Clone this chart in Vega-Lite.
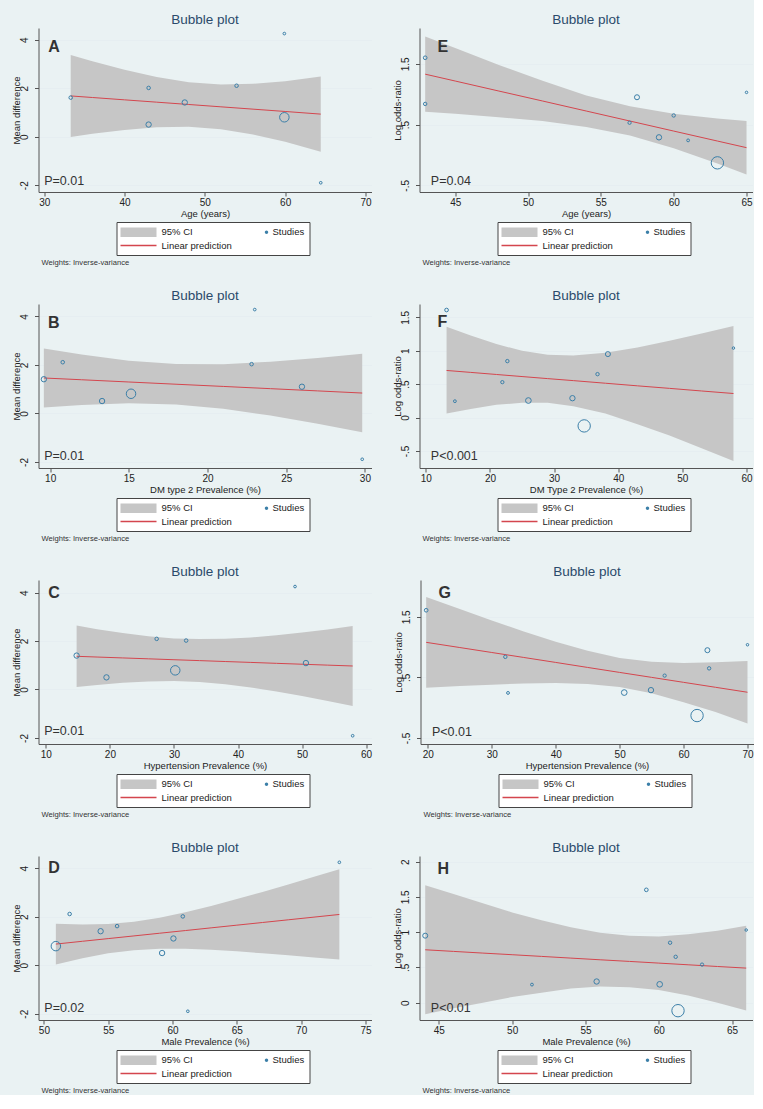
{
  "$schema": "https://vega.github.io/schema/vega-lite/v6.json",
  "background": "#eaf2f3",
  "padding": {"left": 10.5, "top": 13, "right": 0, "bottom": 0},
  "config": {
    "font": "Liberation Sans",
    "view": {"stroke": null, "fill": "#ffffff"},
    "axis": {"domainColor": "#555555", "tickColor": "#555555", "tickSize": 4, "labelColor": "#222222", "titleColor": "#222222", "labelFontSize": 10, "titleFontSize": 9.5, "titleFontWeight": "normal", "labelOverlap": false, "labelFlush": false, "domainWidth": 1, "tickWidth": 1},
    "axisX": {"grid": false, "labelPadding": 1, "titlePadding": 1, "labelExpr": "'' + datum.value"},
    "axisY": {"grid": true, "gridColor": "#e6eef1", "gridWidth": 1, "labelAngle": 270, "labelAlign": "center", "labelBaseline": "bottom", "labelPadding": 5, "titlePadding": -2, "labelExpr": "datum.value === 0.5 ? '.5' : datum.value === -0.5 ? '-.5' : datum.value < 0 ? '-' + (-datum.value) : '' + datum.value"},
    "legend": {"orient": "none", "legendX": 78, "legendY": 194, "direction": "horizontal", "columns": 2, "strokeColor": "#444444", "fillColor": "#ffffff", "padding": 5, "columnPadding": -17, "rowPadding": 3.5, "symbolSize": 100, "symbolStrokeWidth": 0, "symbolOpacity": 1, "labelOffset": 30, "labelFontSize": 9.5, "labelColor": "#222222"}
  },
  "datasets": {
    "legendkey": [{"series": "95% CI"}, {"series": "Studies"}, {"series": "Linear prediction"}],
    "studies": [
      {"panel": "A", "x": 33.3, "y": 1.61, "weight": 1.4},
      {"panel": "A", "x": 43.0, "y": 2.01, "weight": 1.4},
      {"panel": "A", "x": 43.0, "y": 0.50, "weight": 3.2},
      {"panel": "A", "x": 47.5, "y": 1.41, "weight": 3.2},
      {"panel": "A", "x": 53.95, "y": 2.10, "weight": 1.4},
      {"panel": "A", "x": 59.9, "y": 4.25, "weight": 0.8},
      {"panel": "A", "x": 59.9, "y": 0.80, "weight": 10},
      {"panel": "A", "x": 64.43, "y": -1.90, "weight": 0.8},
      {"panel": "B", "x": 9.6, "y": 1.41, "weight": 3.2},
      {"panel": "B", "x": 10.8, "y": 2.11, "weight": 1.4},
      {"panel": "B", "x": 13.3, "y": 0.51, "weight": 3.2},
      {"panel": "B", "x": 15.14, "y": 0.81, "weight": 10},
      {"panel": "B", "x": 22.8, "y": 2.03, "weight": 1.4},
      {"panel": "B", "x": 23.0, "y": 4.28, "weight": 0.8},
      {"panel": "B", "x": 26.0, "y": 1.10, "weight": 3.2},
      {"panel": "B", "x": 29.83, "y": -1.89, "weight": 0.8},
      {"panel": "C", "x": 14.8, "y": 1.40, "weight": 3.2},
      {"panel": "C", "x": 19.46, "y": 0.50, "weight": 3.2},
      {"panel": "C", "x": 27.3, "y": 2.09, "weight": 1.4},
      {"panel": "C", "x": 30.2, "y": 0.79, "weight": 10},
      {"panel": "C", "x": 31.9, "y": 2.02, "weight": 1.4},
      {"panel": "C", "x": 48.9, "y": 4.25, "weight": 0.8},
      {"panel": "C", "x": 50.6, "y": 1.09, "weight": 3.2},
      {"panel": "C", "x": 57.9, "y": -1.91, "weight": 0.8},
      {"panel": "D", "x": 50.93, "y": 0.785, "weight": 10},
      {"panel": "D", "x": 52.0, "y": 2.11, "weight": 1.4},
      {"panel": "D", "x": 54.41, "y": 1.40, "weight": 3.2},
      {"panel": "D", "x": 55.69, "y": 1.61, "weight": 1.4},
      {"panel": "D", "x": 59.19, "y": 0.50, "weight": 3.2},
      {"panel": "D", "x": 60.07, "y": 1.10, "weight": 3.2},
      {"panel": "D", "x": 60.8, "y": 2.01, "weight": 1.4},
      {"panel": "D", "x": 61.19, "y": -1.90, "weight": 0.8},
      {"panel": "D", "x": 72.97, "y": 4.24, "weight": 0.8},
      {"panel": "E", "x": 42.94, "y": 1.60, "weight": 1.5},
      {"panel": "E", "x": 42.94, "y": 0.84, "weight": 1.3},
      {"panel": "E", "x": 56.97, "y": 0.53, "weight": 1.2},
      {"panel": "E", "x": 57.48, "y": 0.95, "weight": 2.8},
      {"panel": "E", "x": 58.99, "y": 0.29, "weight": 3.2},
      {"panel": "E", "x": 60.0, "y": 0.65, "weight": 1.3},
      {"panel": "E", "x": 60.99, "y": 0.24, "weight": 0.9},
      {"panel": "E", "x": 63.0, "y": -0.13, "weight": 17},
      {"panel": "E", "x": 65.0, "y": 1.03, "weight": 0.7},
      {"panel": "F", "x": 13.23, "y": 1.61, "weight": 1.5},
      {"panel": "F", "x": 14.53, "y": 0.245, "weight": 0.9},
      {"panel": "F", "x": 21.93, "y": 0.53, "weight": 1.2},
      {"panel": "F", "x": 22.71, "y": 0.845, "weight": 1.3},
      {"panel": "F", "x": 25.99, "y": 0.255, "weight": 3.6},
      {"panel": "F", "x": 32.86, "y": 0.29, "weight": 3.2},
      {"panel": "F", "x": 34.69, "y": -0.125, "weight": 17},
      {"panel": "F", "x": 36.77, "y": 0.65, "weight": 1.3},
      {"panel": "F", "x": 38.39, "y": 0.95, "weight": 2.8},
      {"panel": "F", "x": 57.97, "y": 1.04, "weight": 0.7},
      {"panel": "G", "x": 19.74, "y": 1.61, "weight": 1.5},
      {"panel": "G", "x": 32.12, "y": 0.84, "weight": 1.3},
      {"panel": "G", "x": 32.54, "y": 0.244, "weight": 0.9},
      {"panel": "G", "x": 50.72, "y": 0.25, "weight": 3.6},
      {"panel": "G", "x": 54.9, "y": 0.29, "weight": 3.2},
      {"panel": "G", "x": 57.04, "y": 0.53, "weight": 1.2},
      {"panel": "G", "x": 62.11, "y": -0.13, "weight": 17},
      {"panel": "G", "x": 63.73, "y": 0.95, "weight": 2.8},
      {"panel": "G", "x": 64.0, "y": 0.65, "weight": 1.3},
      {"panel": "G", "x": 70.0, "y": 1.04, "weight": 0.7},
      {"panel": "H", "x": 44.07, "y": 0.95, "weight": 2.8},
      {"panel": "H", "x": 51.35, "y": 0.256, "weight": 0.9},
      {"panel": "H", "x": 55.76, "y": 0.30, "weight": 3.2},
      {"panel": "H", "x": 59.15, "y": 1.60, "weight": 1.5},
      {"panel": "H", "x": 60.06, "y": 0.26, "weight": 3.6},
      {"panel": "H", "x": 60.77, "y": 0.85, "weight": 1.3},
      {"panel": "H", "x": 61.15, "y": 0.65, "weight": 1.3},
      {"panel": "H", "x": 61.31, "y": -0.114, "weight": 17},
      {"panel": "H", "x": 62.95, "y": 0.54, "weight": 1.2},
      {"panel": "H", "x": 65.96, "y": 1.03, "weight": 0.7}
    ],
    "fits": [
      {"panel": "A", "x": 33.3, "hi": 3.37, "lo": -0.01, "pred": 1.68},
      {"panel": "A", "x": 36, "hi": 3.11, "lo": 0.12, "pred": 1.615},
      {"panel": "A", "x": 40, "hi": 2.76, "lo": 0.28, "pred": 1.519},
      {"panel": "A", "x": 44, "hi": 2.46, "lo": 0.39, "pred": 1.423},
      {"panel": "A", "x": 48, "hi": 2.24, "lo": 0.41, "pred": 1.327},
      {"panel": "A", "x": 52, "hi": 2.15, "lo": 0.31, "pred": 1.231},
      {"panel": "A", "x": 56, "hi": 2.18, "lo": 0.09, "pred": 1.135},
      {"panel": "A", "x": 60, "hi": 2.29, "lo": -0.21, "pred": 1.039},
      {"panel": "A", "x": 64.43, "hi": 2.48, "lo": -0.62, "pred": 0.93},
      {"panel": "E", "x": 42.94, "hi": 1.95, "lo": 0.71, "pred": 1.33},
      {"panel": "E", "x": 45, "hi": 1.76, "lo": 0.68, "pred": 1.217},
      {"panel": "E", "x": 48, "hi": 1.48, "lo": 0.62, "pred": 1.052},
      {"panel": "E", "x": 51, "hi": 1.22, "lo": 0.56, "pred": 0.888},
      {"panel": "E", "x": 54, "hi": 0.98, "lo": 0.46, "pred": 0.723},
      {"panel": "E", "x": 57, "hi": 0.80, "lo": 0.32, "pred": 0.558},
      {"panel": "E", "x": 60, "hi": 0.68, "lo": 0.11, "pred": 0.393},
      {"panel": "E", "x": 63, "hi": 0.60, "lo": -0.14, "pred": 0.229},
      {"panel": "E", "x": 65, "hi": 0.56, "lo": -0.32, "pred": 0.12},
      {"panel": "B", "x": 9.6, "hi": 2.68, "lo": 0.24, "pred": 1.46},
      {"panel": "B", "x": 12, "hi": 2.43, "lo": 0.35, "pred": 1.387},
      {"panel": "B", "x": 15, "hi": 2.17, "lo": 0.42, "pred": 1.295},
      {"panel": "B", "x": 18, "hi": 2.04, "lo": 0.37, "pred": 1.203},
      {"panel": "B", "x": 21, "hi": 2.03, "lo": 0.19, "pred": 1.112},
      {"panel": "B", "x": 24, "hi": 2.13, "lo": -0.09, "pred": 1.020},
      {"panel": "B", "x": 27, "hi": 2.28, "lo": -0.43, "pred": 0.928},
      {"panel": "B", "x": 29.83, "hi": 2.46, "lo": -0.78, "pred": 0.84},
      {"panel": "F", "x": 13.23, "hi": 1.36, "lo": 0.06, "pred": 0.705},
      {"panel": "F", "x": 17, "hi": 1.23, "lo": 0.13, "pred": 0.676},
      {"panel": "F", "x": 21, "hi": 1.10, "lo": 0.19, "pred": 0.645},
      {"panel": "F", "x": 25, "hi": 1.00, "lo": 0.22, "pred": 0.614},
      {"panel": "F", "x": 29, "hi": 0.94, "lo": 0.22, "pred": 0.583},
      {"panel": "F", "x": 33, "hi": 0.93, "lo": 0.17, "pred": 0.553},
      {"panel": "F", "x": 38, "hi": 0.97, "lo": 0.06, "pred": 0.514},
      {"panel": "F", "x": 43, "hi": 1.05, "lo": -0.10, "pred": 0.475},
      {"panel": "F", "x": 48, "hi": 1.15, "lo": -0.27, "pred": 0.437},
      {"panel": "F", "x": 53, "hi": 1.26, "lo": -0.46, "pred": 0.398},
      {"panel": "F", "x": 57.97, "hi": 1.37, "lo": -0.65, "pred": 0.36},
      {"panel": "C", "x": 14.8, "hi": 2.64, "lo": 0.10, "pred": 1.37},
      {"panel": "C", "x": 18, "hi": 2.49, "lo": 0.19, "pred": 1.340},
      {"panel": "C", "x": 22, "hi": 2.33, "lo": 0.28, "pred": 1.303},
      {"panel": "C", "x": 26, "hi": 2.20, "lo": 0.33, "pred": 1.266},
      {"panel": "C", "x": 30, "hi": 2.11, "lo": 0.35, "pred": 1.229},
      {"panel": "C", "x": 34, "hi": 2.08, "lo": 0.31, "pred": 1.192},
      {"panel": "C", "x": 38, "hi": 2.09, "lo": 0.22, "pred": 1.155},
      {"panel": "C", "x": 42, "hi": 2.15, "lo": 0.08, "pred": 1.118},
      {"panel": "C", "x": 46, "hi": 2.24, "lo": -0.08, "pred": 1.080},
      {"panel": "C", "x": 50, "hi": 2.35, "lo": -0.27, "pred": 1.043},
      {"panel": "C", "x": 54, "hi": 2.48, "lo": -0.47, "pred": 1.006},
      {"panel": "C", "x": 57.9, "hi": 2.62, "lo": -0.68, "pred": 0.97},
      {"panel": "G", "x": 19.74, "hi": 1.83, "lo": 0.33, "pred": 1.08},
      {"panel": "G", "x": 25, "hi": 1.63, "lo": 0.36, "pred": 0.994},
      {"panel": "G", "x": 30, "hi": 1.44, "lo": 0.38, "pred": 0.912},
      {"panel": "G", "x": 35, "hi": 1.26, "lo": 0.40, "pred": 0.830},
      {"panel": "G", "x": 40, "hi": 1.09, "lo": 0.41, "pred": 0.748},
      {"panel": "G", "x": 45, "hi": 0.94, "lo": 0.39, "pred": 0.665},
      {"panel": "G", "x": 50, "hi": 0.82, "lo": 0.34, "pred": 0.583},
      {"panel": "G", "x": 55, "hi": 0.76, "lo": 0.24, "pred": 0.501},
      {"panel": "G", "x": 60, "hi": 0.74, "lo": 0.09, "pred": 0.419},
      {"panel": "G", "x": 65, "hi": 0.75, "lo": -0.07, "pred": 0.337},
      {"panel": "G", "x": 70, "hi": 0.77, "lo": -0.26, "pred": 0.255},
      {"panel": "D", "x": 50.93, "hi": 1.71, "lo": 0.03, "pred": 0.87},
      {"panel": "D", "x": 53, "hi": 1.68, "lo": 0.29, "pred": 0.985},
      {"panel": "D", "x": 55, "hi": 1.70, "lo": 0.49, "pred": 1.095},
      {"panel": "D", "x": 57, "hi": 1.79, "lo": 0.62, "pred": 1.206},
      {"panel": "D", "x": 59, "hi": 1.95, "lo": 0.68, "pred": 1.317},
      {"panel": "D", "x": 61, "hi": 2.18, "lo": 0.68, "pred": 1.427},
      {"panel": "D", "x": 63, "hi": 2.44, "lo": 0.64, "pred": 1.538},
      {"panel": "D", "x": 65, "hi": 2.73, "lo": 0.57, "pred": 1.649},
      {"panel": "D", "x": 67, "hi": 3.02, "lo": 0.49, "pred": 1.759},
      {"panel": "D", "x": 69, "hi": 3.33, "lo": 0.41, "pred": 1.870},
      {"panel": "D", "x": 71, "hi": 3.64, "lo": 0.32, "pred": 1.981},
      {"panel": "D", "x": 72.97, "hi": 3.95, "lo": 0.23, "pred": 2.09},
      {"panel": "H", "x": 44.07, "hi": 1.665, "lo": -0.165, "pred": 0.75},
      {"panel": "H", "x": 46, "hi": 1.54, "lo": -0.08, "pred": 0.727},
      {"panel": "H", "x": 48, "hi": 1.41, "lo": 0.00, "pred": 0.703},
      {"panel": "H", "x": 50, "hi": 1.28, "lo": 0.08, "pred": 0.680},
      {"panel": "H", "x": 52, "hi": 1.17, "lo": 0.14, "pred": 0.656},
      {"panel": "H", "x": 54, "hi": 1.07, "lo": 0.20, "pred": 0.632},
      {"panel": "H", "x": 56, "hi": 0.99, "lo": 0.23, "pred": 0.608},
      {"panel": "H", "x": 58, "hi": 0.95, "lo": 0.22, "pred": 0.585},
      {"panel": "H", "x": 60, "hi": 0.94, "lo": 0.18, "pred": 0.561},
      {"panel": "H", "x": 62, "hi": 0.97, "lo": 0.10, "pred": 0.537},
      {"panel": "H", "x": 64, "hi": 1.02, "lo": 0.00, "pred": 0.513},
      {"panel": "H", "x": 65.96, "hi": 1.09, "lo": -0.11, "pred": 0.49}
    ],
    "notes": [
      {"panel": "A", "kind": "letter", "label": "A", "x": 30.5, "y": 3.51},
      {"panel": "A", "kind": "p", "label": "P=0.01", "x": 30.0, "y": -2.0},
      {"panel": "E", "kind": "letter", "label": "E", "x": 43.79, "y": 1.70},
      {"panel": "E", "kind": "p", "label": "P=0.04", "x": 43.33, "y": -0.50},
      {"panel": "B", "kind": "letter", "label": "B", "x": 9.87, "y": 3.54},
      {"panel": "B", "kind": "p", "label": "P=0.01", "x": 9.62, "y": -1.93},
      {"panel": "F", "kind": "letter", "label": "F", "x": 11.82, "y": 1.35},
      {"panel": "F", "kind": "p", "label": "P<0.001", "x": 10.78, "y": -0.63},
      {"panel": "C", "kind": "letter", "label": "C", "x": 10.37, "y": 3.77},
      {"panel": "C", "kind": "p", "label": "P=0.01", "x": 9.74, "y": -1.89},
      {"panel": "G", "kind": "letter", "label": "G", "x": 21.67, "y": 1.81},
      {"panel": "G", "kind": "p", "label": "P<0.01", "x": 20.63, "y": -0.47},
      {"panel": "D", "kind": "letter", "label": "D", "x": 50.34, "y": 3.80},
      {"panel": "D", "kind": "p", "label": "P=0.02", "x": 50.03, "y": -1.91},
      {"panel": "H", "kind": "letter", "label": "H", "x": 44.91, "y": 1.83},
      {"panel": "H", "kind": "p", "label": "P<0.01", "x": 44.45, "y": -0.13}
    ]
  },
  "spacing": 22,
  "resolve": {"scale": {"color": "independent", "shape": "independent"}, "legend": {"color": "independent", "shape": "independent"}},
  "vconcat": [
    {"spacing": 21, "resolve": {"scale": {"color": "independent", "shape": "independent"}, "legend": {"color": "independent", "shape": "independent"}}, "hconcat": [
      {"resolve": {"scale": {"color": "independent", "shape": "independent"}, "legend": {"color": "independent", "shape": "independent"}},
       "title": {"text": "Weights: Inverse-variance", "orient": "bottom", "anchor": "start", "frame": "bounds", "dx": 30, "offset": 3, "fontSize": 7.6, "fontWeight": "normal", "color": "#333333", "baseline": "top"},
       "vconcat": [{"width": 333, "height": 164,
        "title": {"text": "Bubble plot", "anchor": "middle", "frame": "group", "offset": -9.5, "fontSize": 13.5, "fontWeight": "normal", "color": "#2a4a6b", "baseline": "alphabetic"},
        "layer": [
          {"data": {"name": "fits"}, "transform": [{"filter": "datum.panel === 'A'"}], "mark": {"type": "area", "opacity": 1, "color": "#c6c6c6"},
           "encoding": {
             "x": {"field": "x", "type": "quantitative", "title": "Age (years)", "scale": {"domain": [29.29, 70.75], "nice": false, "zero": false}, "axis": {"values": [30, 40, 50, 60, 70]}},
             "y": {"field": "hi", "type": "quantitative", "title": "Mean difference", "scale": {"domain": [-2.28, 4.48], "nice": false, "zero": false}, "axis": {"values": [-2, 0, 2, 4]}},
             "y2": {"field": "lo"}}},
          {"data": {"name": "fits"}, "transform": [{"filter": "datum.panel === 'A'"}], "mark": {"type": "line", "strokeWidth": 1, "color": "#d4464e"},
           "encoding": {"x": {"field": "x", "type": "quantitative", "title": "Age (years)"}, "y": {"field": "pred", "type": "quantitative", "title": "Mean difference"}}},
          {"data": {"name": "studies"}, "transform": [{"filter": "datum.panel === 'A'"}], "mark": {"type": "point", "shape": "circle", "filled": false, "strokeWidth": 1, "opacity": 1, "color": "#3b7fa8"},
           "encoding": {"x": {"field": "x", "type": "quantitative", "title": "Age (years)"}, "y": {"field": "y", "type": "quantitative", "title": "Mean difference"}, "size": {"field": "weight", "type": "quantitative", "scale": {"domain": [0, 20], "range": [0, 180]}, "legend": null}}},
          {"data": {"name": "notes"}, "transform": [{"filter": "datum.panel === 'A' && datum.kind === 'letter'"}], "mark": {"type": "text", "align": "left", "baseline": "alphabetic", "fontSize": 16, "fontWeight": "bold", "color": "#333333"},
           "encoding": {"x": {"field": "x", "type": "quantitative", "title": "Age (years)"}, "y": {"field": "y", "type": "quantitative", "title": "Mean difference"}, "text": {"field": "label"}}},
          {"data": {"name": "notes"}, "transform": [{"filter": "datum.panel === 'A' && datum.kind === 'p'"}], "mark": {"type": "text", "align": "left", "baseline": "alphabetic", "fontSize": 12.5, "color": "#333333"},
           "encoding": {"x": {"field": "x", "type": "quantitative", "title": "Age (years)"}, "y": {"field": "y", "type": "quantitative", "title": "Mean difference"}, "text": {"field": "label"}}},
          {"data": {"name": "legendkey"}, "mark": {"type": "point", "filled": true, "opacity": 0},
           "encoding": {
             "color": {"field": "series", "type": "nominal", "scale": {"domain": ["95% CI", "Studies", "Linear prediction"], "range": ["#c6c6c6", "#3b7fa8", "#d4464e"]}, "legend": {"title": null}},
             "shape": {"field": "series", "type": "nominal", "scale": {"domain": ["95% CI", "Studies", "Linear prediction"], "range": ["M-1.2,-0.95H6V0.95H-1.2Z", "M5.46,0A0.34,0.34,0,1,1,6.14,0A0.34,0.34,0,1,1,5.46,0Z", "M-1.2,-0.14H6V0.14H-1.2Z"]}, "legend": {"title": null}}}}
        ]}]},
      {"resolve": {"scale": {"color": "independent", "shape": "independent"}, "legend": {"color": "independent", "shape": "independent"}},
       "title": {"text": "Weights: Inverse-variance", "orient": "bottom", "anchor": "start", "frame": "bounds", "dx": 30, "offset": 3, "fontSize": 7.6, "fontWeight": "normal", "color": "#333333", "baseline": "top"},
       "vconcat": [{"width": 333, "height": 164,
        "title": {"text": "Bubble plot", "anchor": "middle", "frame": "group", "offset": -9.5, "fontSize": 13.5, "fontWeight": "normal", "color": "#2a4a6b", "baseline": "alphabetic"},
        "layer": [
          {"data": {"name": "fits"}, "transform": [{"filter": "datum.panel === 'E'"}], "mark": {"type": "area", "opacity": 1, "color": "#c6c6c6"},
           "encoding": {
             "x": {"field": "x", "type": "quantitative", "title": "Age (years)", "scale": {"domain": [42.55, 65.41], "nice": false, "zero": false}, "axis": {"values": [45, 50, 55, 60, 65]}},
             "y": {"field": "hi", "type": "quantitative", "title": "Log odds-ratio", "scale": {"domain": [-0.61, 2.09], "nice": false, "zero": false}, "axis": {"values": [-0.5, 0, 0.5, 1, 1.5, 2]}},
             "y2": {"field": "lo"}}},
          {"data": {"name": "fits"}, "transform": [{"filter": "datum.panel === 'E'"}], "mark": {"type": "line", "strokeWidth": 1, "color": "#d4464e"},
           "encoding": {"x": {"field": "x", "type": "quantitative", "title": "Age (years)"}, "y": {"field": "pred", "type": "quantitative", "title": "Log odds-ratio"}}},
          {"data": {"name": "studies"}, "transform": [{"filter": "datum.panel === 'E'"}], "mark": {"type": "point", "shape": "circle", "filled": false, "strokeWidth": 1, "opacity": 1, "color": "#3b7fa8"},
           "encoding": {"x": {"field": "x", "type": "quantitative", "title": "Age (years)"}, "y": {"field": "y", "type": "quantitative", "title": "Log odds-ratio"}, "size": {"field": "weight", "type": "quantitative", "scale": {"domain": [0, 20], "range": [0, 180]}, "legend": null}}},
          {"data": {"name": "notes"}, "transform": [{"filter": "datum.panel === 'E' && datum.kind === 'letter'"}], "mark": {"type": "text", "align": "left", "baseline": "alphabetic", "fontSize": 16, "fontWeight": "bold", "color": "#333333"},
           "encoding": {"x": {"field": "x", "type": "quantitative", "title": "Age (years)"}, "y": {"field": "y", "type": "quantitative", "title": "Log odds-ratio"}, "text": {"field": "label"}}},
          {"data": {"name": "notes"}, "transform": [{"filter": "datum.panel === 'E' && datum.kind === 'p'"}], "mark": {"type": "text", "align": "left", "baseline": "alphabetic", "fontSize": 12.5, "color": "#333333"},
           "encoding": {"x": {"field": "x", "type": "quantitative", "title": "Age (years)"}, "y": {"field": "y", "type": "quantitative", "title": "Log odds-ratio"}, "text": {"field": "label"}}},
          {"data": {"name": "legendkey"}, "mark": {"type": "point", "filled": true, "opacity": 0},
           "encoding": {
             "color": {"field": "series", "type": "nominal", "scale": {"domain": ["95% CI", "Studies", "Linear prediction"], "range": ["#c6c6c6", "#3b7fa8", "#d4464e"]}, "legend": {"title": null}},
             "shape": {"field": "series", "type": "nominal", "scale": {"domain": ["95% CI", "Studies", "Linear prediction"], "range": ["M-1.2,-0.95H6V0.95H-1.2Z", "M5.46,0A0.34,0.34,0,1,1,6.14,0A0.34,0.34,0,1,1,5.46,0Z", "M-1.2,-0.14H6V0.14H-1.2Z"]}, "legend": {"title": null}}}}
        ]}]}
    ]},
    {"spacing": 21, "resolve": {"scale": {"color": "independent", "shape": "independent"}, "legend": {"color": "independent", "shape": "independent"}}, "hconcat": [
      {"resolve": {"scale": {"color": "independent", "shape": "independent"}, "legend": {"color": "independent", "shape": "independent"}},
       "title": {"text": "Weights: Inverse-variance", "orient": "bottom", "anchor": "start", "frame": "bounds", "dx": 30, "offset": 3, "fontSize": 7.6, "fontWeight": "normal", "color": "#333333", "baseline": "top"},
       "vconcat": [{"width": 333, "height": 164,
        "title": {"text": "Bubble plot", "anchor": "middle", "frame": "group", "offset": -9.5, "fontSize": 13.5, "fontWeight": "normal", "color": "#2a4a6b", "baseline": "alphabetic"},
        "layer": [
          {"data": {"name": "fits"}, "transform": [{"filter": "datum.panel === 'B'"}], "mark": {"type": "area", "opacity": 1, "color": "#c6c6c6"},
           "encoding": {
             "x": {"field": "x", "type": "quantitative", "title": "DM type 2 Prevalence (%)", "scale": {"domain": [9.26, 30.42], "nice": false, "zero": false}, "axis": {"values": [10, 15, 20, 25, 30]}},
             "y": {"field": "hi", "type": "quantitative", "title": "Mean difference", "scale": {"domain": [-2.25, 4.51], "nice": false, "zero": false}, "axis": {"values": [-2, 0, 2, 4]}},
             "y2": {"field": "lo"}}},
          {"data": {"name": "fits"}, "transform": [{"filter": "datum.panel === 'B'"}], "mark": {"type": "line", "strokeWidth": 1, "color": "#d4464e"},
           "encoding": {"x": {"field": "x", "type": "quantitative", "title": "DM type 2 Prevalence (%)"}, "y": {"field": "pred", "type": "quantitative", "title": "Mean difference"}}},
          {"data": {"name": "studies"}, "transform": [{"filter": "datum.panel === 'B'"}], "mark": {"type": "point", "shape": "circle", "filled": false, "strokeWidth": 1, "opacity": 1, "color": "#3b7fa8"},
           "encoding": {"x": {"field": "x", "type": "quantitative", "title": "DM type 2 Prevalence (%)"}, "y": {"field": "y", "type": "quantitative", "title": "Mean difference"}, "size": {"field": "weight", "type": "quantitative", "scale": {"domain": [0, 20], "range": [0, 180]}, "legend": null}}},
          {"data": {"name": "notes"}, "transform": [{"filter": "datum.panel === 'B' && datum.kind === 'letter'"}], "mark": {"type": "text", "align": "left", "baseline": "alphabetic", "fontSize": 16, "fontWeight": "bold", "color": "#333333"},
           "encoding": {"x": {"field": "x", "type": "quantitative", "title": "DM type 2 Prevalence (%)"}, "y": {"field": "y", "type": "quantitative", "title": "Mean difference"}, "text": {"field": "label"}}},
          {"data": {"name": "notes"}, "transform": [{"filter": "datum.panel === 'B' && datum.kind === 'p'"}], "mark": {"type": "text", "align": "left", "baseline": "alphabetic", "fontSize": 12.5, "color": "#333333"},
           "encoding": {"x": {"field": "x", "type": "quantitative", "title": "DM type 2 Prevalence (%)"}, "y": {"field": "y", "type": "quantitative", "title": "Mean difference"}, "text": {"field": "label"}}},
          {"data": {"name": "legendkey"}, "mark": {"type": "point", "filled": true, "opacity": 0},
           "encoding": {
             "color": {"field": "series", "type": "nominal", "scale": {"domain": ["95% CI", "Studies", "Linear prediction"], "range": ["#c6c6c6", "#3b7fa8", "#d4464e"]}, "legend": {"title": null}},
             "shape": {"field": "series", "type": "nominal", "scale": {"domain": ["95% CI", "Studies", "Linear prediction"], "range": ["M-1.2,-0.95H6V0.95H-1.2Z", "M5.46,0A0.34,0.34,0,1,1,6.14,0A0.34,0.34,0,1,1,5.46,0Z", "M-1.2,-0.14H6V0.14H-1.2Z"]}, "legend": {"title": null}}}}
        ]}]},
      {"resolve": {"scale": {"color": "independent", "shape": "independent"}, "legend": {"color": "independent", "shape": "independent"}},
       "title": {"text": "Weights: Inverse-variance", "orient": "bottom", "anchor": "start", "frame": "bounds", "dx": 30, "offset": 3, "fontSize": 7.6, "fontWeight": "normal", "color": "#333333", "baseline": "top"},
       "vconcat": [{"width": 333, "height": 164,
        "title": {"text": "Bubble plot", "anchor": "middle", "frame": "group", "offset": -9.5, "fontSize": 13.5, "fontWeight": "normal", "color": "#2a4a6b", "baseline": "alphabetic"},
        "layer": [
          {"data": {"name": "fits"}, "transform": [{"filter": "datum.panel === 'F'"}], "mark": {"type": "area", "opacity": 1, "color": "#c6c6c6"},
           "encoding": {
             "x": {"field": "x", "type": "quantitative", "title": "DM Type 2 Prevalence (%)", "scale": {"domain": [9.01, 60.94], "nice": false, "zero": false}, "axis": {"values": [10, 20, 30, 40, 50, 60]}},
             "y": {"field": "hi", "type": "quantitative", "title": "Log odds-ratio", "scale": {"domain": [-0.755, 1.70], "nice": false, "zero": false}, "axis": {"values": [-0.5, 0, 0.5, 1, 1.5]}},
             "y2": {"field": "lo"}}},
          {"data": {"name": "fits"}, "transform": [{"filter": "datum.panel === 'F'"}], "mark": {"type": "line", "strokeWidth": 1, "color": "#d4464e"},
           "encoding": {"x": {"field": "x", "type": "quantitative", "title": "DM Type 2 Prevalence (%)"}, "y": {"field": "pred", "type": "quantitative", "title": "Log odds-ratio"}}},
          {"data": {"name": "studies"}, "transform": [{"filter": "datum.panel === 'F'"}], "mark": {"type": "point", "shape": "circle", "filled": false, "strokeWidth": 1, "opacity": 1, "color": "#3b7fa8"},
           "encoding": {"x": {"field": "x", "type": "quantitative", "title": "DM Type 2 Prevalence (%)"}, "y": {"field": "y", "type": "quantitative", "title": "Log odds-ratio"}, "size": {"field": "weight", "type": "quantitative", "scale": {"domain": [0, 20], "range": [0, 180]}, "legend": null}}},
          {"data": {"name": "notes"}, "transform": [{"filter": "datum.panel === 'F' && datum.kind === 'letter'"}], "mark": {"type": "text", "align": "left", "baseline": "alphabetic", "fontSize": 16, "fontWeight": "bold", "color": "#333333"},
           "encoding": {"x": {"field": "x", "type": "quantitative", "title": "DM Type 2 Prevalence (%)"}, "y": {"field": "y", "type": "quantitative", "title": "Log odds-ratio"}, "text": {"field": "label"}}},
          {"data": {"name": "notes"}, "transform": [{"filter": "datum.panel === 'F' && datum.kind === 'p'"}], "mark": {"type": "text", "align": "left", "baseline": "alphabetic", "fontSize": 12.5, "color": "#333333"},
           "encoding": {"x": {"field": "x", "type": "quantitative", "title": "DM Type 2 Prevalence (%)"}, "y": {"field": "y", "type": "quantitative", "title": "Log odds-ratio"}, "text": {"field": "label"}}},
          {"data": {"name": "legendkey"}, "mark": {"type": "point", "filled": true, "opacity": 0},
           "encoding": {
             "color": {"field": "series", "type": "nominal", "scale": {"domain": ["95% CI", "Studies", "Linear prediction"], "range": ["#c6c6c6", "#3b7fa8", "#d4464e"]}, "legend": {"title": null}},
             "shape": {"field": "series", "type": "nominal", "scale": {"domain": ["95% CI", "Studies", "Linear prediction"], "range": ["M-1.2,-0.95H6V0.95H-1.2Z", "M5.46,0A0.34,0.34,0,1,1,6.14,0A0.34,0.34,0,1,1,5.46,0Z", "M-1.2,-0.14H6V0.14H-1.2Z"]}, "legend": {"title": null}}}}
        ]}]}
    ]},
    {"spacing": 21, "resolve": {"scale": {"color": "independent", "shape": "independent"}, "legend": {"color": "independent", "shape": "independent"}}, "hconcat": [
      {"resolve": {"scale": {"color": "independent", "shape": "independent"}, "legend": {"color": "independent", "shape": "independent"}},
       "title": {"text": "Weights: Inverse-variance", "orient": "bottom", "anchor": "start", "frame": "bounds", "dx": 30, "offset": 3, "fontSize": 7.6, "fontWeight": "normal", "color": "#333333", "baseline": "top"},
       "vconcat": [{"width": 333, "height": 164,
        "title": {"text": "Bubble plot", "anchor": "middle", "frame": "group", "offset": -9.5, "fontSize": 13.5, "fontWeight": "normal", "color": "#2a4a6b", "baseline": "alphabetic"},
        "layer": [
          {"data": {"name": "fits"}, "transform": [{"filter": "datum.panel === 'C'"}], "mark": {"type": "area", "opacity": 1, "color": "#c6c6c6"},
           "encoding": {
             "x": {"field": "x", "type": "quantitative", "title": "Hypertension Prevalence (%)", "scale": {"domain": [8.85, 60.84], "nice": false, "zero": false}, "axis": {"values": [10, 20, 30, 40, 50, 60]}},
             "y": {"field": "hi", "type": "quantitative", "title": "Mean difference", "scale": {"domain": [-2.25, 4.52], "nice": false, "zero": false}, "axis": {"values": [-2, 0, 2, 4]}},
             "y2": {"field": "lo"}}},
          {"data": {"name": "fits"}, "transform": [{"filter": "datum.panel === 'C'"}], "mark": {"type": "line", "strokeWidth": 1, "color": "#d4464e"},
           "encoding": {"x": {"field": "x", "type": "quantitative", "title": "Hypertension Prevalence (%)"}, "y": {"field": "pred", "type": "quantitative", "title": "Mean difference"}}},
          {"data": {"name": "studies"}, "transform": [{"filter": "datum.panel === 'C'"}], "mark": {"type": "point", "shape": "circle", "filled": false, "strokeWidth": 1, "opacity": 1, "color": "#3b7fa8"},
           "encoding": {"x": {"field": "x", "type": "quantitative", "title": "Hypertension Prevalence (%)"}, "y": {"field": "y", "type": "quantitative", "title": "Mean difference"}, "size": {"field": "weight", "type": "quantitative", "scale": {"domain": [0, 20], "range": [0, 180]}, "legend": null}}},
          {"data": {"name": "notes"}, "transform": [{"filter": "datum.panel === 'C' && datum.kind === 'letter'"}], "mark": {"type": "text", "align": "left", "baseline": "alphabetic", "fontSize": 16, "fontWeight": "bold", "color": "#333333"},
           "encoding": {"x": {"field": "x", "type": "quantitative", "title": "Hypertension Prevalence (%)"}, "y": {"field": "y", "type": "quantitative", "title": "Mean difference"}, "text": {"field": "label"}}},
          {"data": {"name": "notes"}, "transform": [{"filter": "datum.panel === 'C' && datum.kind === 'p'"}], "mark": {"type": "text", "align": "left", "baseline": "alphabetic", "fontSize": 12.5, "color": "#333333"},
           "encoding": {"x": {"field": "x", "type": "quantitative", "title": "Hypertension Prevalence (%)"}, "y": {"field": "y", "type": "quantitative", "title": "Mean difference"}, "text": {"field": "label"}}},
          {"data": {"name": "legendkey"}, "mark": {"type": "point", "filled": true, "opacity": 0},
           "encoding": {
             "color": {"field": "series", "type": "nominal", "scale": {"domain": ["95% CI", "Studies", "Linear prediction"], "range": ["#c6c6c6", "#3b7fa8", "#d4464e"]}, "legend": {"title": null}},
             "shape": {"field": "series", "type": "nominal", "scale": {"domain": ["95% CI", "Studies", "Linear prediction"], "range": ["M-1.2,-0.95H6V0.95H-1.2Z", "M5.46,0A0.34,0.34,0,1,1,6.14,0A0.34,0.34,0,1,1,5.46,0Z", "M-1.2,-0.14H6V0.14H-1.2Z"]}, "legend": {"title": null}}}}
        ]}]},
      {"resolve": {"scale": {"color": "independent", "shape": "independent"}, "legend": {"color": "independent", "shape": "independent"}},
       "title": {"text": "Weights: Inverse-variance", "orient": "bottom", "anchor": "start", "frame": "bounds", "dx": 30, "offset": 3, "fontSize": 7.6, "fontWeight": "normal", "color": "#333333", "baseline": "top"},
       "vconcat": [{"width": 333, "height": 164,
        "title": {"text": "Bubble plot", "anchor": "middle", "frame": "group", "offset": -9.5, "fontSize": 13.5, "fontWeight": "normal", "color": "#2a4a6b", "baseline": "alphabetic"},
        "layer": [
          {"data": {"name": "fits"}, "transform": [{"filter": "datum.panel === 'G'"}], "mark": {"type": "area", "opacity": 1, "color": "#c6c6c6"},
           "encoding": {
             "x": {"field": "x", "type": "quantitative", "title": "Hypertension Prevalence (%)", "scale": {"domain": [18.85, 70.94], "nice": false, "zero": false}, "axis": {"values": [20, 30, 40, 50, 60, 70]}},
             "y": {"field": "hi", "type": "quantitative", "title": "Log odds-ratio", "scale": {"domain": [-0.60, 2.11], "nice": false, "zero": false}, "axis": {"values": [-0.5, 0, 0.5, 1, 1.5, 2]}},
             "y2": {"field": "lo"}}},
          {"data": {"name": "fits"}, "transform": [{"filter": "datum.panel === 'G'"}], "mark": {"type": "line", "strokeWidth": 1, "color": "#d4464e"},
           "encoding": {"x": {"field": "x", "type": "quantitative", "title": "Hypertension Prevalence (%)"}, "y": {"field": "pred", "type": "quantitative", "title": "Log odds-ratio"}}},
          {"data": {"name": "studies"}, "transform": [{"filter": "datum.panel === 'G'"}], "mark": {"type": "point", "shape": "circle", "filled": false, "strokeWidth": 1, "opacity": 1, "color": "#3b7fa8"},
           "encoding": {"x": {"field": "x", "type": "quantitative", "title": "Hypertension Prevalence (%)"}, "y": {"field": "y", "type": "quantitative", "title": "Log odds-ratio"}, "size": {"field": "weight", "type": "quantitative", "scale": {"domain": [0, 20], "range": [0, 180]}, "legend": null}}},
          {"data": {"name": "notes"}, "transform": [{"filter": "datum.panel === 'G' && datum.kind === 'letter'"}], "mark": {"type": "text", "align": "left", "baseline": "alphabetic", "fontSize": 16, "fontWeight": "bold", "color": "#333333"},
           "encoding": {"x": {"field": "x", "type": "quantitative", "title": "Hypertension Prevalence (%)"}, "y": {"field": "y", "type": "quantitative", "title": "Log odds-ratio"}, "text": {"field": "label"}}},
          {"data": {"name": "notes"}, "transform": [{"filter": "datum.panel === 'G' && datum.kind === 'p'"}], "mark": {"type": "text", "align": "left", "baseline": "alphabetic", "fontSize": 12.5, "color": "#333333"},
           "encoding": {"x": {"field": "x", "type": "quantitative", "title": "Hypertension Prevalence (%)"}, "y": {"field": "y", "type": "quantitative", "title": "Log odds-ratio"}, "text": {"field": "label"}}},
          {"data": {"name": "legendkey"}, "mark": {"type": "point", "filled": true, "opacity": 0},
           "encoding": {
             "color": {"field": "series", "type": "nominal", "scale": {"domain": ["95% CI", "Studies", "Linear prediction"], "range": ["#c6c6c6", "#3b7fa8", "#d4464e"]}, "legend": {"title": null}},
             "shape": {"field": "series", "type": "nominal", "scale": {"domain": ["95% CI", "Studies", "Linear prediction"], "range": ["M-1.2,-0.95H6V0.95H-1.2Z", "M5.46,0A0.34,0.34,0,1,1,6.14,0A0.34,0.34,0,1,1,5.46,0Z", "M-1.2,-0.14H6V0.14H-1.2Z"]}, "legend": {"title": null}}}}
        ]}]}
    ]},
    {"spacing": 21, "resolve": {"scale": {"color": "independent", "shape": "independent"}, "legend": {"color": "independent", "shape": "independent"}}, "hconcat": [
      {"resolve": {"scale": {"color": "independent", "shape": "independent"}, "legend": {"color": "independent", "shape": "independent"}},
       "title": {"text": "Weights: Inverse-variance", "orient": "bottom", "anchor": "start", "frame": "bounds", "dx": 30, "offset": 3, "fontSize": 7.6, "fontWeight": "normal", "color": "#333333", "baseline": "top"},
       "vconcat": [{"width": 333, "height": 164,
        "title": {"text": "Bubble plot", "anchor": "middle", "frame": "group", "offset": -9.5, "fontSize": 13.5, "fontWeight": "normal", "color": "#2a4a6b", "baseline": "alphabetic"},
        "layer": [
          {"data": {"name": "fits"}, "transform": [{"filter": "datum.panel === 'D'"}], "mark": {"type": "area", "opacity": 1, "color": "#c6c6c6"},
           "encoding": {
             "x": {"field": "x", "type": "quantitative", "title": "Male Prevalence (%)", "scale": {"domain": [49.58, 75.47], "nice": false, "zero": false}, "axis": {"values": [50, 55, 60, 65, 70, 75]}},
             "y": {"field": "hi", "type": "quantitative", "title": "Mean difference", "scale": {"domain": [-2.26, 4.50], "nice": false, "zero": false}, "axis": {"values": [-2, 0, 2, 4]}},
             "y2": {"field": "lo"}}},
          {"data": {"name": "fits"}, "transform": [{"filter": "datum.panel === 'D'"}], "mark": {"type": "line", "strokeWidth": 1, "color": "#d4464e"},
           "encoding": {"x": {"field": "x", "type": "quantitative", "title": "Male Prevalence (%)"}, "y": {"field": "pred", "type": "quantitative", "title": "Mean difference"}}},
          {"data": {"name": "studies"}, "transform": [{"filter": "datum.panel === 'D'"}], "mark": {"type": "point", "shape": "circle", "filled": false, "strokeWidth": 1, "opacity": 1, "color": "#3b7fa8"},
           "encoding": {"x": {"field": "x", "type": "quantitative", "title": "Male Prevalence (%)"}, "y": {"field": "y", "type": "quantitative", "title": "Mean difference"}, "size": {"field": "weight", "type": "quantitative", "scale": {"domain": [0, 20], "range": [0, 180]}, "legend": null}}},
          {"data": {"name": "notes"}, "transform": [{"filter": "datum.panel === 'D' && datum.kind === 'letter'"}], "mark": {"type": "text", "align": "left", "baseline": "alphabetic", "fontSize": 16, "fontWeight": "bold", "color": "#333333"},
           "encoding": {"x": {"field": "x", "type": "quantitative", "title": "Male Prevalence (%)"}, "y": {"field": "y", "type": "quantitative", "title": "Mean difference"}, "text": {"field": "label"}}},
          {"data": {"name": "notes"}, "transform": [{"filter": "datum.panel === 'D' && datum.kind === 'p'"}], "mark": {"type": "text", "align": "left", "baseline": "alphabetic", "fontSize": 12.5, "color": "#333333"},
           "encoding": {"x": {"field": "x", "type": "quantitative", "title": "Male Prevalence (%)"}, "y": {"field": "y", "type": "quantitative", "title": "Mean difference"}, "text": {"field": "label"}}},
          {"data": {"name": "legendkey"}, "mark": {"type": "point", "filled": true, "opacity": 0},
           "encoding": {
             "color": {"field": "series", "type": "nominal", "scale": {"domain": ["95% CI", "Studies", "Linear prediction"], "range": ["#c6c6c6", "#3b7fa8", "#d4464e"]}, "legend": {"title": null}},
             "shape": {"field": "series", "type": "nominal", "scale": {"domain": ["95% CI", "Studies", "Linear prediction"], "range": ["M-1.2,-0.95H6V0.95H-1.2Z", "M5.46,0A0.34,0.34,0,1,1,6.14,0A0.34,0.34,0,1,1,5.46,0Z", "M-1.2,-0.14H6V0.14H-1.2Z"]}, "legend": {"title": null}}}}
        ]}]},
      {"resolve": {"scale": {"color": "independent", "shape": "independent"}, "legend": {"color": "independent", "shape": "independent"}},
       "title": {"text": "Weights: Inverse-variance", "orient": "bottom", "anchor": "start", "frame": "bounds", "dx": 30, "offset": 3, "fontSize": 7.6, "fontWeight": "normal", "color": "#333333", "baseline": "top"},
       "vconcat": [{"width": 333, "height": 164,
        "title": {"text": "Bubble plot", "anchor": "middle", "frame": "group", "offset": -9.5, "fontSize": 13.5, "fontWeight": "normal", "color": "#2a4a6b", "baseline": "alphabetic"},
        "layer": [
          {"data": {"name": "fits"}, "transform": [{"filter": "datum.panel === 'H'"}], "mark": {"type": "area", "opacity": 1, "color": "#c6c6c6"},
           "encoding": {
             "x": {"field": "x", "type": "quantitative", "title": "Male Prevalence (%)", "scale": {"domain": [43.68, 66.39], "nice": false, "zero": false}, "axis": {"values": [45, 50, 55, 60, 65]}},
             "y": {"field": "hi", "type": "quantitative", "title": "Log odds-ratio", "scale": {"domain": [-0.246, 2.08], "nice": false, "zero": false}, "axis": {"values": [0, 0.5, 1, 1.5, 2]}},
             "y2": {"field": "lo"}}},
          {"data": {"name": "fits"}, "transform": [{"filter": "datum.panel === 'H'"}], "mark": {"type": "line", "strokeWidth": 1, "color": "#d4464e"},
           "encoding": {"x": {"field": "x", "type": "quantitative", "title": "Male Prevalence (%)"}, "y": {"field": "pred", "type": "quantitative", "title": "Log odds-ratio"}}},
          {"data": {"name": "studies"}, "transform": [{"filter": "datum.panel === 'H'"}], "mark": {"type": "point", "shape": "circle", "filled": false, "strokeWidth": 1, "opacity": 1, "color": "#3b7fa8"},
           "encoding": {"x": {"field": "x", "type": "quantitative", "title": "Male Prevalence (%)"}, "y": {"field": "y", "type": "quantitative", "title": "Log odds-ratio"}, "size": {"field": "weight", "type": "quantitative", "scale": {"domain": [0, 20], "range": [0, 180]}, "legend": null}}},
          {"data": {"name": "notes"}, "transform": [{"filter": "datum.panel === 'H' && datum.kind === 'letter'"}], "mark": {"type": "text", "align": "left", "baseline": "alphabetic", "fontSize": 16, "fontWeight": "bold", "color": "#333333"},
           "encoding": {"x": {"field": "x", "type": "quantitative", "title": "Male Prevalence (%)"}, "y": {"field": "y", "type": "quantitative", "title": "Log odds-ratio"}, "text": {"field": "label"}}},
          {"data": {"name": "notes"}, "transform": [{"filter": "datum.panel === 'H' && datum.kind === 'p'"}], "mark": {"type": "text", "align": "left", "baseline": "alphabetic", "fontSize": 12.5, "color": "#333333"},
           "encoding": {"x": {"field": "x", "type": "quantitative", "title": "Male Prevalence (%)"}, "y": {"field": "y", "type": "quantitative", "title": "Log odds-ratio"}, "text": {"field": "label"}}},
          {"data": {"name": "legendkey"}, "mark": {"type": "point", "filled": true, "opacity": 0},
           "encoding": {
             "color": {"field": "series", "type": "nominal", "scale": {"domain": ["95% CI", "Studies", "Linear prediction"], "range": ["#c6c6c6", "#3b7fa8", "#d4464e"]}, "legend": {"title": null}},
             "shape": {"field": "series", "type": "nominal", "scale": {"domain": ["95% CI", "Studies", "Linear prediction"], "range": ["M-1.2,-0.95H6V0.95H-1.2Z", "M5.46,0A0.34,0.34,0,1,1,6.14,0A0.34,0.34,0,1,1,5.46,0Z", "M-1.2,-0.14H6V0.14H-1.2Z"]}, "legend": {"title": null}}}}
        ]}]}
    ]}
  ]
}
